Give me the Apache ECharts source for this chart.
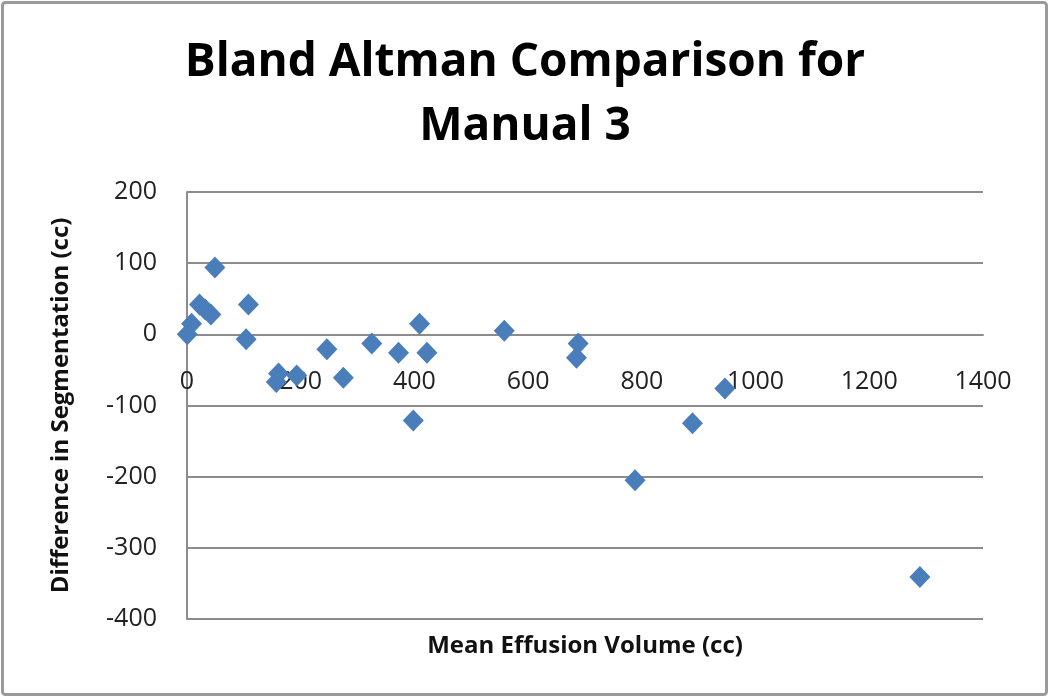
<!DOCTYPE html>
<html>
<head>
<meta charset="utf-8">
<title>Bland Altman Comparison for Manual 3</title>
<script src="https://cdn.jsdelivr.net/npm/echarts@6/dist/echarts.min.js"></script>
<style>
  html, body { margin: 0; padding: 0; background: #fff; }
  #main { width: 1050px; height: 698px; }
</style>
</head>
<body>
<div id="main"></div>
<script>
// mean effusion volume (cc) and difference in segmentation (cc)
var meanVolume = [0.5, 8, 22, 32, 42, 49, 104, 108, 157, 161, 193, 246, 275, 325, 372, 398, 409, 422, 558, 685, 688, 788, 889, 946, 1289];
var difference = [0, 15, 42, 35, 28, 94, -7, 42, -67, -55, -58, -21, -61, -13, -26, -121, 15, -26, 5, -33, -13, -205, -125, -76, -341];

var xTicks = [0, 200, 400, 600, 800, 1000, 1200, 1400];
var yTicks = [-400, -300, -200, -100, 0, 100, 200];

var font = '"Open Sans", Lato, sans-serif';

var points = meanVolume.map(function (x, i) { return [x, difference[i]]; });

// grid box; the x axis sits on the y = 0 line like in Excel
var gridTop = 192, gridBottom = 79, chartHeight = 698;
var gridHeight = chartHeight - gridTop - gridBottom;
var yMin = yTicks[0], yMax = yTicks[yTicks.length - 1];
var zeroOffset = -gridHeight * (0 - yMin) / (yMax - yMin);

var chart = echarts.init(document.getElementById('main'));

chart.setOption({
    backgroundColor: '#fff',
    animation: false,
    title: {
        text: 'Bland Altman Comparison for\nManual 3',
        left: 'center',
        top: 26,
        textStyle: {
            fontFamily: font,
            fontWeight: 'bold',
            fontSize: 46,
            lineHeight: 64,
            color: '#000'
        }
    },
    graphic: [{
        type: 'rect',
        shape: { x: 2.5, y: 2.5, width: 1044, height: 692, r: 3 },
        style: { fill: null, stroke: '#9a9a9a', lineWidth: 3 },
        silent: true
    }],
    grid: { left: 187, right: 67, top: gridTop, bottom: gridBottom, outerBoundsMode: 'none', containLabel: false },
    xAxis: {
        type: 'value',
        min: xTicks[0],
        max: xTicks[xTicks.length - 1],
        interval: 200,
        offset: zeroOffset,
        name: 'Mean Effusion Volume (cc)',
        nameLocation: 'middle',
        nameGap: 300,
        nameTextStyle: { fontFamily: font, fontWeight: 'bold', fontSize: 24, color: '#111' },
        axisLine: { onZero: false, lineStyle: { color: '#8c8c8c', width: 2 } },
        axisTick: { show: false },
        axisLabel: { margin: 35, fontFamily: font, fontSize: 25, color: '#222', formatter: function (v) { return String(v); } },
        splitLine: { show: false }
    },
    yAxis: {
        type: 'value',
        min: yMin,
        max: yMax,
        interval: 100,
        name: 'Difference in Segmentation (cc)',
        nameLocation: 'middle',
        nameGap: 114,
        nameRotate: 90,
        nameTextStyle: { fontFamily: font, fontWeight: 'bold', fontSize: 24, color: '#111' },
        axisLine: { show: true, lineStyle: { color: '#8c8c8c', width: 2 } },
        axisTick: { show: false },
        axisLabel: { margin: 30, fontFamily: font, fontSize: 25, color: '#222', formatter: function (v) { return String(v); } },
        splitLine: { lineStyle: { color: '#8c8c8c', width: 2 } }
    },
    series: [{
        type: 'scatter',
        data: points,
        symbol: 'diamond',
        symbolSize: [21, 22],
        itemStyle: { color: '#4a7ebb', opacity: 1 }
    }]
});
</script>
</body>
</html>
